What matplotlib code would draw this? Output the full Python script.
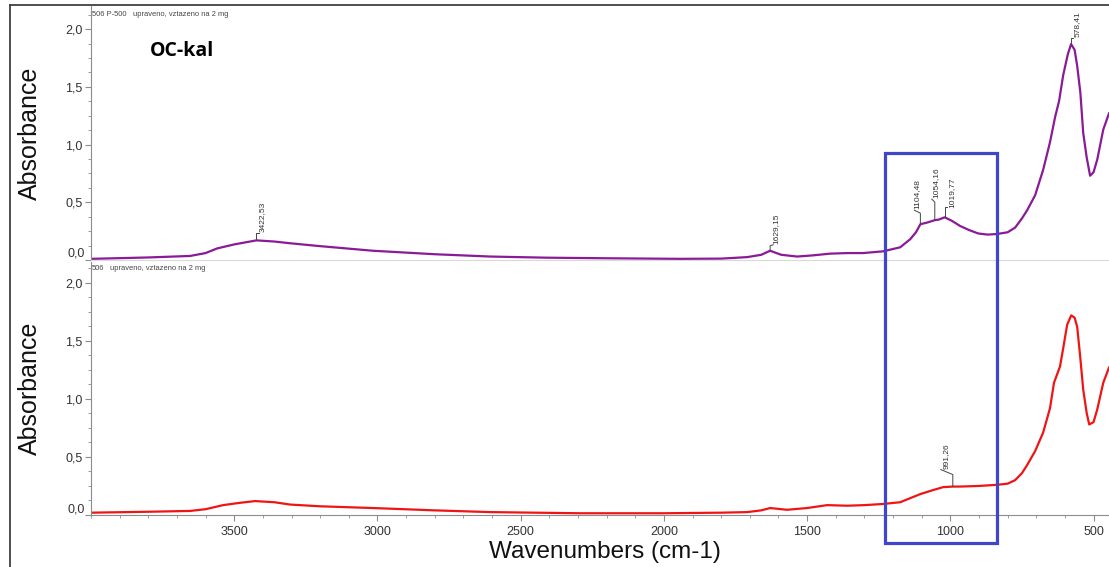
import numpy as np
import matplotlib
matplotlib.use("Agg")
import matplotlib.pyplot as plt
from matplotlib import ticker
from matplotlib.lines import Line2D
from matplotlib.patches import Rectangle

# spectrum 506 P-500 (top panel)
top_wn = [4000, 3800, 3654, 3600, 3560, 3500, 3422.53, 3360, 3305, 3200, 3015, 2800,
          2607, 2408, 2200, 1943, 1800, 1709, 1660, 1629.15, 1590, 1535, 1480, 1420,
          1360, 1305, 1235, 1175, 1140, 1120, 1104.48, 1080, 1054.16, 1040, 1019.77,
          995, 966, 935, 903, 870, 837, 800, 774, 750, 732, 704, 676, 652, 634, 620,
          606, 590, 578.41, 566, 557, 546, 536, 524, 512, 500, 487, 466, 446]
top_abs = [0.01, 0.022, 0.035, 0.06, 0.10, 0.135, 0.17, 0.16, 0.145, 0.12, 0.08, 0.05,
           0.03, 0.02, 0.015, 0.01, 0.012, 0.025, 0.045, 0.08, 0.045, 0.03, 0.04, 0.055,
           0.06, 0.06, 0.075, 0.11, 0.18, 0.24, 0.31, 0.325, 0.345, 0.35, 0.37,
           0.34, 0.295, 0.26, 0.23, 0.22, 0.225, 0.24, 0.28, 0.36, 0.43, 0.56, 0.78, 1.02, 1.24, 1.38,
           1.60, 1.78, 1.87, 1.82, 1.68, 1.45, 1.10, 0.89, 0.73, 0.76, 0.87, 1.13, 1.27]

# spectrum 506 (bottom panel)
bot_wn = [4000, 3800, 3654, 3600, 3539, 3480, 3427, 3360, 3305, 3200, 3015, 2800, 2607,
          2293, 2000, 1800, 1709, 1660, 1629, 1570, 1500, 1430, 1360, 1300, 1235, 1175,
          1140, 1105, 1060, 1025, 991.26, 966, 903, 837, 800, 774, 750, 732, 704, 676,
          652, 638, 617, 605, 592, 578, 566, 557, 546, 536, 524, 515, 500, 487, 466, 446]
bot_abs = [0.02, 0.028, 0.035, 0.05, 0.085, 0.105, 0.12, 0.11, 0.09, 0.075, 0.06, 0.04, 0.025,
           0.015, 0.015, 0.02, 0.025, 0.04, 0.06, 0.045, 0.06, 0.085, 0.08, 0.085, 0.095, 0.11,
           0.145, 0.18, 0.215, 0.24, 0.245, 0.245, 0.25, 0.26, 0.27, 0.30, 0.36, 0.43, 0.55, 0.71,
           0.92, 1.14, 1.28, 1.45, 1.64, 1.72, 1.70, 1.62, 1.35, 1.08, 0.88, 0.78, 0.80, 0.91, 1.14, 1.27]

top_peaks = [3422.53, 1629.15, 1104.48, 1054.16, 1019.77, 578.41]
bot_peaks = [991.26]
x_ticks = [3500, 3000, 2500, 2000, 1500, 1000, 500]
y_ticks = [0.0, 0.5, 1.0, 1.5, 2.0]

# leader line (pixels from the peak) and text offset for each peak label
leaders = {
    3422.53: ([(0, 0), (0, 7), (3, 7)], (6, 8)),
    1629.15: ([(0, 0), (0, 5), (3, 6)], (6, 7)),
    1104.48: ([(0, 0), (0, 11), (-6, 14)], (-3, 15)),
    1054.16: ([(0, 0), (0, 18), (-3, 21)], (1, 22)),
    1019.77: ([(0, 0), (0, 10), (2, 10)], (7, 9)),
    578.41: ([(0, 0), (0, 6), (2, 6)], (6, 7)),
    991.26: ([(0, 0), (0, 12), (-12, 17)], (-7, 18)),
}

W, H = 1109, 567
fig = plt.figure(figsize=(W / 100, H / 100), dpi=100)
fig.patch.set_facecolor("white")

def px(x0, y0, x1, y1):
    return [x0 / W, 1 - y1 / H, (x1 - x0) / W, (y1 - y0) / H]

ax_top = fig.add_axes(px(91, 6, 1109, 260))
ax_bot = fig.add_axes(px(91, 262, 1109, 515))

def fmt(v):
    return f"{v:.1f}".replace(".", ",")

def style(ax, ymax, bottom_color, show_x):
    ax.set_xlim(4000, 446)
    ax.set_ylim(0, ymax)
    for s in ["top", "right"]:
        ax.spines[s].set_visible(False)
    ax.spines["left"].set_color("#8c8c8c")
    ax.spines["bottom"].set_color(bottom_color)
    ax.yaxis.set_major_locator(ticker.FixedLocator(y_ticks))
    ax.yaxis.set_major_formatter(ticker.FixedFormatter([""] + [fmt(v) for v in y_ticks[1:]]))
    ax.yaxis.set_minor_locator(ticker.MultipleLocator(0.125))
    ax.tick_params(axis="y", which="major", length=4, color="#8c8c8c", labelsize=9,
                   labelcolor="#333333", pad=2)
    ax.tick_params(axis="y", which="minor", length=2, color="#8c8c8c")
    ax.annotate(fmt(0.0), xy=(0, 0), xycoords=("axes fraction", "data"), xytext=(-6, 0),
                textcoords="offset pixels", ha="right", va="bottom", fontsize=9,
                color="#333333", family="Liberation Sans")
    if show_x:
        ax.xaxis.set_major_locator(ticker.FixedLocator(x_ticks))
        ax.xaxis.set_major_formatter(ticker.FixedFormatter([str(t) for t in x_ticks]))
        ax.xaxis.set_minor_locator(ticker.MultipleLocator(100))
        ax.tick_params(axis="x", which="major", length=4, color="#8c8c8c", labelsize=9,
                       labelcolor="#333333", pad=4)
        ax.tick_params(axis="x", which="minor", length=2, color="#8c8c8c")
    else:
        ax.set_xticks([])
    for lab in ax.get_xticklabels() + ax.get_yticklabels():
        lab.set_family("Liberation Sans")

style(ax_top, 2.2, "#d9d9d9", False)
style(ax_bot, 2.18, "#8c8c8c", True)

ax_top.plot(top_wn, top_abs, color="#8a1a96", lw=1.6, solid_joinstyle="round")
ax_bot.plot(bot_wn, bot_abs, color="#f01414", lw=1.6, solid_joinstyle="round")

def label_peaks(ax, wn, ab, peaks):
    wn_r = np.array(wn)[::-1]
    ab_r = np.array(ab)[::-1]
    inv = ax.transData.inverted()
    for p in peaks:
        v = np.interp(p, wn_r, ab_r)
        base = ax.transData.transform((p, v))
        pts, toff = leaders[p]
        line = inv.transform([(base[0] + dx, base[1] + dy) for dx, dy in pts])
        ax.plot(line[:, 0], line[:, 1], color="#444444", lw=0.7)
        ax.annotate(f"{p:.2f}".replace(".", ","), xy=(p, v), xytext=toff,
                    textcoords="offset pixels", rotation=90, ha="center", va="bottom",
                    fontsize=6, color="#333333", family="Liberation Sans")

label_peaks(ax_top, top_wn, top_abs, top_peaks)
label_peaks(ax_bot, bot_wn, bot_abs, bot_peaks)

# headers
hdr = dict(fontsize=5.4, color="#444444", family="Liberation Sans", va="center")
fig.text(92 / W, 1 - 14 / H, "506 P-500", **hdr)
fig.text(133 / W, 1 - 14 / H, "upraveno, vztazeno na 2 mg", **hdr)
fig.text(92 / W, 1 - 268 / H, "506", **hdr)
fig.text(110 / W, 1 - 268 / H, "upraveno, vztazeno na 2 mg", **hdr)

fig.text(182 / W, 1 - 51 / H, "OC-kal", fontsize=14, fontweight="bold", family="Open Sans",
         ha="center", va="center", color="black")

fig.text(30 / W, 1 - 133 / H, "Absorbance", rotation=90, fontsize=18, family="Liberation Sans",
         ha="center", va="center", color="#111111")
fig.text(30 / W, 1 - 388 / H, "Absorbance", rotation=90, fontsize=18, family="Liberation Sans",
         ha="center", va="center", color="#111111")
fig.text(605 / W, 1 - 552 / H, "Wavenumbers (cm-1)", fontsize=17.5, family="Liberation Sans",
         ha="center", va="center", color="#111111")

# outer frame
fig.add_artist(Line2D([10 / W, 1], [1 - 5 / H, 1 - 5 / H], transform=fig.transFigure,
                      color="#404040", lw=1.3))
fig.add_artist(Line2D([10 / W, 10 / W], [0, 1 - 5 / H], transform=fig.transFigure,
                      color="#404040", lw=1.3))

# highlight box
fig.add_artist(Rectangle((884.5 / W, 1 - 543 / H), 112 / W, 390.5 / H, transform=fig.transFigure,
                         fill=False, edgecolor="#3f46c8", lw=2.3))

fig.savefig("out.png", dpi=100)
